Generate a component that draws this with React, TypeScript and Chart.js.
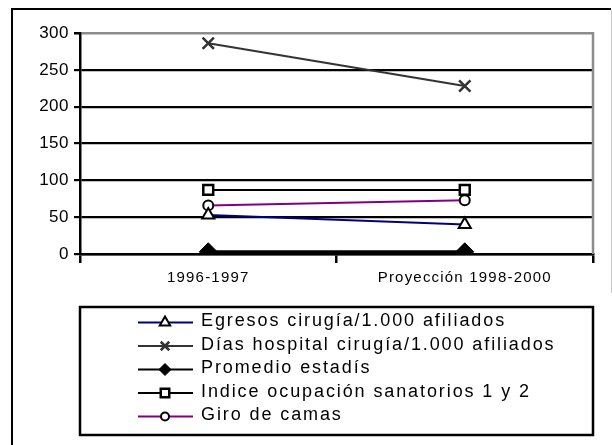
import React, { useEffect, useRef } from "react";
import { Chart, registerables } from "chart.js";
import { drawPoint } from "chart.js/helpers";

Chart.register(...registerables);

const categories = ["1996-1997", "Proyección 1998-2000"];
const egresos = [53, 40];
const diasHospital = [286, 228];
const promedioEstadia = [3, 3];
const indiceOcupacion = [87, 87];
const giroCamas = [66, 73];
const legendLabels = [
  "Egresos cirugía/1.000 afiliados",
  "Días hospital cirugía/1.000 afiliados",
  "Promedio estadís",
  "Indice ocupación sanatorios 1 y 2",
  "Giro de camas",
];

const FONT = "'Liberation Sans', Arial, sans-serif";

const framePlugin = {
  id: "frame",
  beforeDraw(chart: any) {
    const ctx = chart.ctx;
    ctx.save();
    ctx.fillStyle = "#fff";
    ctx.fillRect(0, 0, chart.width, chart.height);
    ctx.strokeStyle = "#000";
    ctx.lineWidth = 2;
    ctx.beginPath();
    ctx.moveTo(12, chart.height);
    ctx.lineTo(12, 9);
    ctx.lineTo(611, 9);
    ctx.stroke();
    ctx.strokeStyle = "#c8c8c8";
    ctx.lineWidth = 1;
    ctx.beginPath();
    ctx.moveTo(611.5, 10);
    ctx.lineTo(611.5, 293);
    ctx.stroke();
    ctx.restore();
    const spacing: Record<string, string> = { x: "1.2px", y: "0.5px" };
    Object.keys(spacing).forEach((id) => {
      const s = chart.scales[id];
      if (s && !s.__patched) {
        const orig = s.drawLabels.bind(s);
        s.drawLabels = (area: any) => {
          s.ctx.save();
          (s.ctx as any).letterSpacing = spacing[id];
          orig(area);
          s.ctx.restore();
        };
        s.__patched = true;
      }
    });
  },
  afterDatasetsDraw(chart: any) {
    const ctx = chart.ctx;
    const a = chart.chartArea;
    ctx.save();
    ctx.strokeStyle = "#8c8c8c";
    ctx.lineWidth = 2.5;
    ctx.beginPath();
    ctx.moveTo(a.right, a.top - 1);
    ctx.lineTo(a.right, a.bottom);
    ctx.stroke();
    ctx.restore();
  },
  afterDraw(chart: any) {
    const ctx = chart.ctx;
    const left = 80;
    const right = 593;
    const top = 307;
    const bottom = 435;
    ctx.save();
    ctx.strokeStyle = "#000";
    ctx.lineWidth = 2.5;
    ctx.strokeRect(left, top, right - left, bottom - top);
    const legendRadius = [6, 6, 6, 6, 4];
    chart.data.datasets.forEach((ds: any, i: number) => {
      const y = 322.5 + i * 23.5;
      ctx.strokeStyle = ds.borderColor;
      ctx.lineWidth = 2;
      ctx.beginPath();
      ctx.moveTo(138, y);
      ctx.lineTo(193, y);
      ctx.stroke();
      ctx.fillStyle = ds.pointBackgroundColor;
      ctx.strokeStyle = ds.pointBorderColor;
      ctx.lineWidth = ds.pointBorderWidth;
      drawPoint(ctx, {
        pointStyle: ds.pointStyle,
        rotation: 0,
        radius: legendRadius[i],
        borderWidth: ds.pointBorderWidth,
      } as any, 165, y);
      ctx.fillStyle = "#000";
      ctx.font = `18px ${FONT}`;
      (ctx as any).letterSpacing = "1.9px";
      ctx.textAlign = "left";
      ctx.textBaseline = "middle";
      ctx.fillText(ds.label, 201, y - 1);
      (ctx as any).letterSpacing = "0px";
    });
    ctx.restore();
  },
};

export default function App() {
  const ref = useRef<HTMLCanvasElement | null>(null);
  useEffect(() => {
    if (!ref.current) return;
    const chart = new Chart(ref.current, {
      type: "line",
      data: {
        labels: categories,
        datasets: [
          {
            label: legendLabels[0],
            data: egresos,
            borderColor: "#000080",
            borderWidth: 2,
            pointStyle: "triangle",
            pointRadius: 7,
            pointBackgroundColor: "#fff",
            pointBorderColor: "#000",
            pointBorderWidth: 2,
          },
          {
            label: legendLabels[1],
            data: diasHospital,
            borderColor: "#333333",
            borderWidth: 2,
            pointStyle: "crossRot",
            pointRadius: 8,
            pointBackgroundColor: "#333333",
            pointBorderColor: "#333333",
            pointBorderWidth: 2.5,
          },
          {
            label: legendLabels[2],
            data: promedioEstadia,
            borderColor: "#000",
            borderWidth: 3,
            pointStyle: "rectRot",
            pointRadius: 9,
            pointBackgroundColor: "#000",
            pointBorderColor: "#000",
            pointBorderWidth: 1,
          },
          {
            label: legendLabels[3],
            data: indiceOcupacion,
            borderColor: "#000",
            borderWidth: 2,
            pointStyle: "rect",
            pointRadius: 7,
            pointBackgroundColor: "#fff",
            pointBorderColor: "#000",
            pointBorderWidth: 2.5,
          },
          {
            label: legendLabels[4],
            data: giroCamas,
            borderColor: "#800080",
            borderWidth: 2,
            pointStyle: "circle",
            pointRadius: 5,
            pointBackgroundColor: "#fff",
            pointBorderColor: "#000",
            pointBorderWidth: 2,
          },
        ],
      } as any,
      options: {
        animation: false,
        responsive: true,
        maintainAspectRatio: false,
        layout: { padding: { left: 0, top: 33, right: 19, bottom: 0 } },
        plugins: {
          legend: { display: false },
          tooltip: { enabled: false },
          title: { display: false },
        },
        scales: {
          x: {
            offset: true,
            afterFit: (s: any) => {
              s.height = 191;
            },
            grid: {
              offset: true,
              drawOnChartArea: false,
              drawTicks: true,
              tickLength: 9,
              color: "#000",
              lineWidth: 2.5,
            },
            border: { color: "#000", width: 2.5 },
            ticks: {
              color: "#000",
              font: { family: FONT, size: 15 },
              padding: 6,
              maxRotation: 0,
            },
          },
          y: {
            min: 0,
            max: 300,
            afterFit: (s: any) => {
              s.width = 80;
            },
            grid: {
              color: (c: any) => (c.tick && c.tick.value === 300 ? "#8c8c8c" : "#000"),
              tickColor: "#000",
              lineWidth: (c: any) => (c.tick && c.tick.value === 300 ? 2.5 : 2.2),
              tickLength: 6,
            },
            border: { color: "#000", width: 2.5 },
            ticks: {
              stepSize: 50,
              color: "#000",
              font: { family: FONT, size: 17 },
              padding: 5,
            },
          },
        },
      } as any,
      plugins: [framePlugin],
    });
    return () => chart.destroy();
  }, []);
  return (
    <div style={{ position: "absolute", left: 0, top: 0, width: 612, height: 445 }}>
      <canvas ref={ref} />
    </div>
  );
}
